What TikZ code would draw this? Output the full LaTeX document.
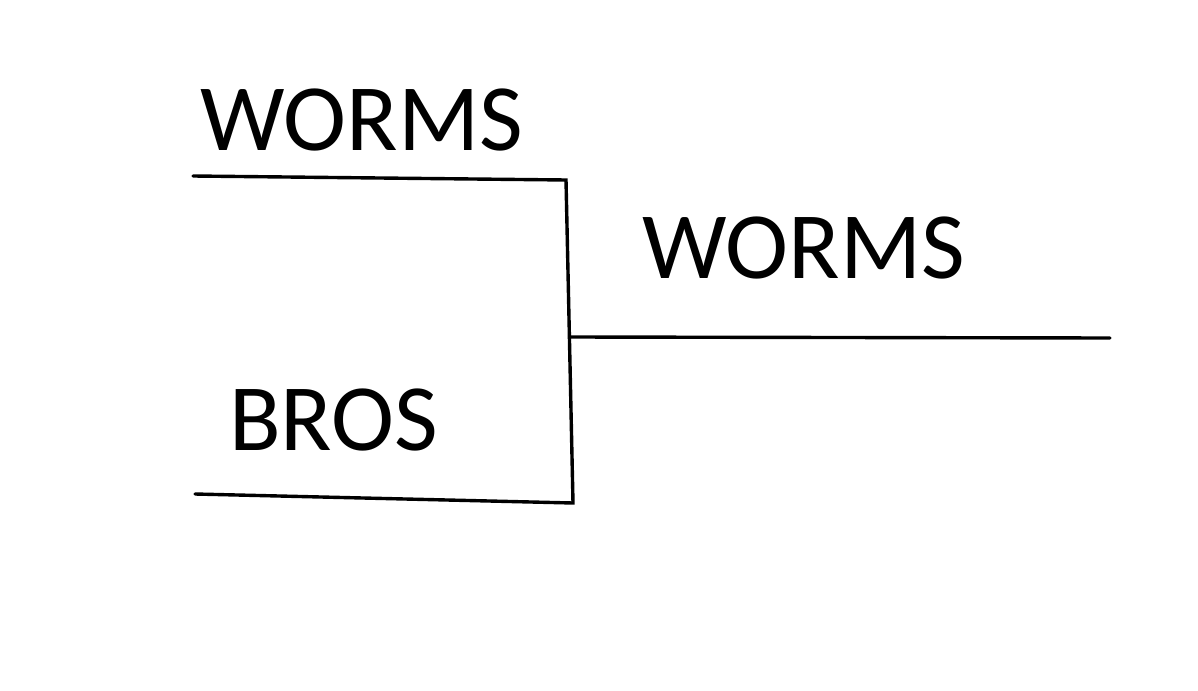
\documentclass[tikz,border=0pt]{standalone}
\usepackage{fontspec}
\setmainfont{Carlito}
\begin{document}
\begin{tikzpicture}[x=1pt,y=-1pt,
  lbl/.style={anchor=base west,inner sep=0pt,font=\fontsize{95}{95}\selectfont},
  ln/.style={line width=3.4pt,line cap=round}]
\useasboundingbox[fill=white] (0,0) rectangle (1198,690);
\coordinate (a1) at (193,176);
\coordinate (a2) at (566,180);
\coordinate (b1) at (195,494);
\coordinate (b2) at (573,503);
\coordinate (m) at (570,337);
\coordinate (r) at (1110,338);
\draw[ln] (a1) -- (a2) -- (b2) -- (b1);
\draw[ln] (m) -- (r);
\node[lbl] (w1) at (200,150) {WORMS};
\node[lbl] (br) at (229,450) {BROS};
\node[lbl] (w2) at (642,278) {WORMS};
\end{tikzpicture}
\end{document}
